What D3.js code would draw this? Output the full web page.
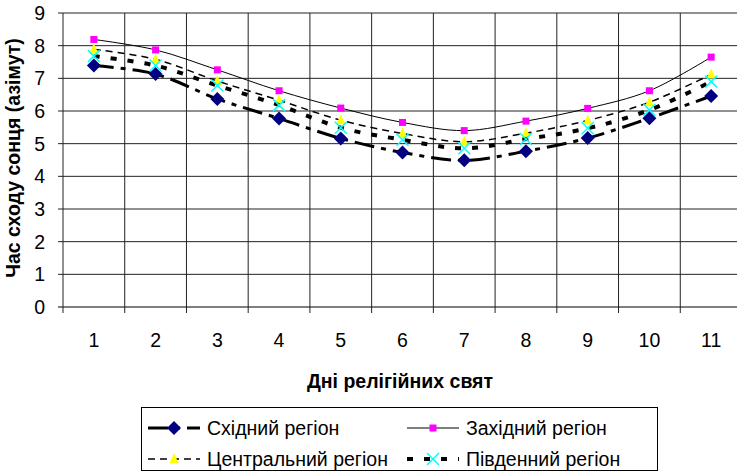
<!DOCTYPE html>
<html>
<head>
<meta charset="utf-8">
<script src="https://cdn.jsdelivr.net/npm/d3@7"></script>
<style>
  body { margin: 0; background: #fff; }
  svg { display: block; font-family: "Liberation Sans", Arial, sans-serif; }
</style>
</head>
<body>
<svg id="chart" width="737" height="472"></svg>
<script>
// data
var days = ["1", "2", "3", "4", "5", "6", "7", "8", "9", "10", "11"];
var yTicks = [0, 1, 2, 3, 4, 5, 6, 7, 8, 9];
var east    = [7.39, 7.13, 6.37, 5.77, 5.16, 4.73, 4.49, 4.77, 5.17, 5.78, 6.46];
var west    = [8.19, 7.87, 7.26, 6.62, 6.09, 5.65, 5.40, 5.69, 6.08, 6.62, 7.65];
var central = [7.89, 7.58, 6.92, 6.33, 5.72, 5.31, 5.06, 5.32, 5.71, 6.27, 7.12];
var south   = [7.68, 7.39, 6.78, 6.18, 5.49, 5.12, 4.86, 5.14, 5.47, 6.03, 6.90];
var names   = ["Східний регіон", "Західний регіон", "Центральний регіон", "Південний регіон"];

var series = [
  { name: names[0], values: east,    stroke: "#000", width: 3,   dash: "20,7,5,7", marker: "diamond" },
  { name: names[1], values: west,    stroke: "#000", width: 1,   dash: null,       marker: "square" },
  { name: names[2], values: central, stroke: "#000", width: 1.5, dash: "7,5",      marker: "triangle" },
  { name: names[3], values: south,   stroke: "#000", width: 4,   dash: "6,11",     marker: "cross" }
];

var svg = d3.select("#chart");
var plotL = 63, plotR = 742, plotT = 13, plotB = 307;
var fs = 19.5;

var x = d3.scaleBand().domain(days).range([plotL, plotR]);
var y = d3.scaleLinear().domain([0, 9]).range([plotB, plotT]);

// grid
var grid = svg.append("g");
grid.selectAll("line.h")
  .data(yTicks)
  .enter().append("line")
  .attr("x1", plotL - 5).attr("x2", plotR)
  .attr("y1", function (d) { return y(d); })
  .attr("y2", function (d) { return y(d); })
  .attr("stroke", function (d) { return d === 0 ? "#000" : "#222"; })
  .attr("stroke-width", 1);

var bounds = days.map(function (d) { return x(d); }).concat([plotR]);
grid.selectAll("line.v")
  .data(bounds)
  .enter().append("line")
  .attr("x1", function (d) { return d; })
  .attr("x2", function (d) { return d; })
  .attr("y1", plotT)
  .attr("y2", plotB + 6)
  .attr("stroke", "#222")
  .attr("stroke-width", 1);

// y labels
svg.append("g").selectAll("text")
  .data(yTicks)
  .enter().append("text")
  .attr("x", 45)
  .attr("y", function (d) { return y(d); })
  .attr("dy", "0.36em")
  .attr("text-anchor", "end")
  .attr("font-size", fs)
  .text(function (d) { return d; });

// x labels
svg.append("g").selectAll("text")
  .data(days)
  .enter().append("text")
  .attr("x", function (d) { return x(d) + x.bandwidth() / 2; })
  .attr("y", 347)
  .attr("text-anchor", "middle")
  .attr("font-size", fs)
  .text(function (d) { return d; });

svg.append("text")
  .attr("x", 400).attr("y", 388)
  .attr("text-anchor", "middle")
  .attr("font-size", fs).attr("font-weight", "bold")
  .text("Дні релігійних свят");

svg.append("text")
  .attr("transform", "translate(20,158) rotate(-90)")
  .attr("text-anchor", "middle")
  .attr("font-size", fs).attr("font-weight", "bold")
  .text("Час сходу сонця (азімут)");

var line = d3.line()
  .x(function (d, i) { return x(days[i]) + x.bandwidth() / 2; })
  .y(function (d) { return y(d); })
  .curve(d3.curveCatmullRom.alpha(0.5));

function drawMarker(g, type, cx, cy) {
  if (type === "diamond") {
    g.append("path").attr("d", "M" + cx + "," + (cy - 7) + "L" + (cx + 7) + "," + cy + "L" + cx + "," + (cy + 7) + "L" + (cx - 7) + "," + cy + "Z")
      .attr("fill", "#000080");
  } else if (type === "square") {
    g.append("rect").attr("x", cx - 3.5).attr("y", cy - 3.5).attr("width", 7).attr("height", 7)
      .attr("fill", "#ff00ff");
  } else if (type === "triangle") {
    g.append("path").attr("d", "M" + cx + "," + (cy - 6) + "L" + (cx + 4.5) + "," + (cy + 4) + "L" + (cx - 4.5) + "," + (cy + 4) + "Z")
      .attr("fill", "#ffff00");
  } else {
    g.append("path").attr("d", "M" + (cx - 6) + "," + (cy - 6) + "L" + (cx + 6) + "," + (cy + 6) + "M" + (cx + 6) + "," + (cy - 6) + "L" + (cx - 6) + "," + (cy + 6))
      .attr("stroke", "#00ffff").attr("stroke-width", 1.5).attr("fill", "none");
  }
}

series.forEach(function (s) {
  var g = svg.append("g");
  g.append("path")
    .datum(s.values)
    .attr("d", line)
    .attr("fill", "none")
    .attr("stroke", s.stroke)
    .attr("stroke-width", s.width)
    .attr("stroke-dasharray", s.dash);
  s.values.forEach(function (v, i) {
    drawMarker(g, s.marker, x(days[i]) + x.bandwidth() / 2, y(v));
  });
});

// legend
var lg = svg.append("g");
lg.append("rect")
  .attr("x", 141.5).attr("y", 407.5).attr("width", 516).attr("height", 63)
  .attr("fill", "#fff").attr("stroke", "#000").attr("stroke-width", 1);

var slots = [
  { x: 148, y: 428 }, { x: 407, y: 428 },
  { x: 148, y: 459 }, { x: 407, y: 459 }
];
series.forEach(function (s, i) {
  var p = slots[i];
  lg.append("line")
    .attr("x1", p.x).attr("x2", p.x + 52)
    .attr("y1", p.y).attr("y2", p.y)
    .attr("stroke", s.stroke)
    .attr("stroke-width", s.width)
    .attr("stroke-dasharray", s.dash);
  drawMarker(lg, s.marker, p.x + 26, p.y);
  lg.append("text")
    .attr("x", p.x + 59).attr("y", p.y)
    .attr("dy", "0.36em")
    .attr("font-size", fs)
    .text(s.name);
});
</script>
</body>
</html>
